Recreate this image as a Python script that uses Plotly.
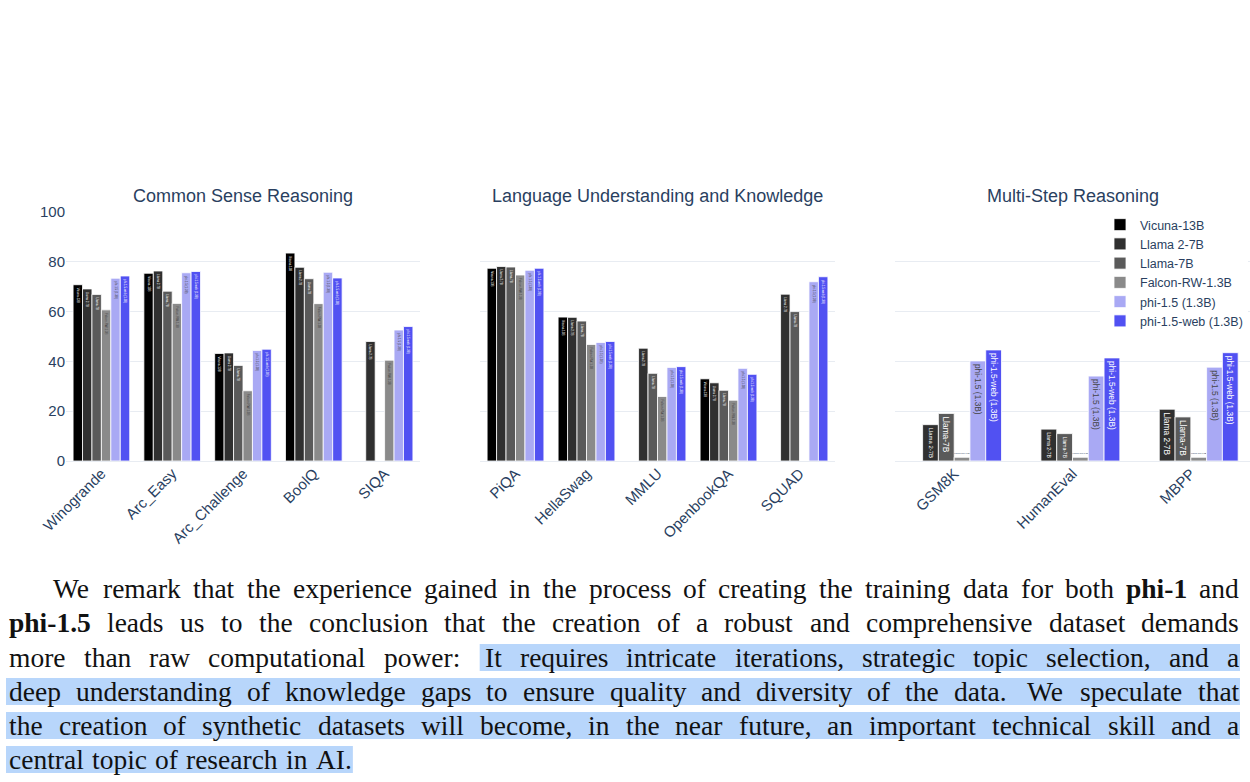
import plotly.graph_objects as go

W, H = 1250, 782

# ---------------- data ----------------
models = ["Vicuna-13B", "Llama 2-7B", "Llama-7B", "Falcon-RW-1.3B",
          "phi-1.5 (1.3B)", "phi-1.5-web (1.3B)"]
colors = ["#000000", "#303030", "#5a5a5a", "#8a8a8a", "#a9a9f4", "#5151f2"]

common_tasks = ["Winogrande", "Arc_Easy", "Arc_Challenge", "BoolQ", "SIQA"]
language_tasks = ["PiQA", "HellaSwag", "MMLU", "OpenbookQA", "SQUAD"]
multistep_tasks = ["GSM8K", "HumanEval", "MBPP"]

# values in task order: common (5), language (5), multi-step (3)
vicuna_13b = [70.8, 75.4, 43.2, 83.5, None, 77.4, 57.8, None, 33.0, None, None, None, None]
llama2_7b = [69.1, 76.3, 43.4, 77.8, 48.0, 78.1, 57.7, 45.3, 31.4, 67.0, 14.6, 12.8, 20.8]
llama_7b = [66.9, 68.2, 38.4, 73.2, None, 77.9, 56.2, 35.2, 28.4, 60.0, 19.1, 11.0, 17.7]
falcon_rw_13b = [60.7, 63.3, 28.2, 63.2, 40.5, 74.7, 46.8, 25.9, 24.4, None, 1.5, 1.5, 1.5]
phi15 = [73.4, 75.6, 44.4, 75.8, 52.6, 76.6, 47.6, 37.6, 37.2, 72.0, 40.2, 34.1, 37.7]
phi15_web = [74.3, 76.1, 44.9, 73.5, 54.0, 77.4, 48.0, 37.9, 34.8, 74.0, 44.6, 41.4, 43.5]

series = [vicuna_13b, llama2_7b, llama_7b, falcon_rw_13b, phi15, phi15_web]

panel_titles = ["Common Sense Reasoning", "Language Understanding and Knowledge",
                "Multi-Step Reasoning"]
y_ticks = [0, 20, 40, 60, 80, 100]

# ---------------- figure ----------------
fig = go.Figure()
panels = [(common_tasks, 0, 5, "x", "y"),
          (language_tasks, 5, 10, "x2", "y2"),
          (multistep_tasks, 10, 13, "x3", "y3")]

for pi, (tasks, a, b, xa, ya) in enumerate(panels):
    for mi, (m, vals) in enumerate(zip(models, series)):
        fig.add_trace(go.Bar(
            x=tasks, y=vals[a:b], name=m, text=[m] * len(tasks),
            textposition="auto",
            marker=dict(color=colors[mi], line=dict(color="white", width=0.8)),
            textfont=dict(size=12, family="Arial"),
            showlegend=(pi == 0), legendgroup=m,
            xaxis=xa, yaxis=ya,
        ))

def px_x(p):
    return p / W

def px_y(p):
    return 1 - p / H

y_dom = [px_y(461), px_y(212)]
x_doms = [[px_x(66), px_x(420)], [px_x(480), px_x(835)], [px_x(895), 1.0]]

tick_font = dict(size=15, family="Arial", color="#2a3f5f")
axis_common = dict(tickangle=-45, tickfont=tick_font, showgrid=False,
                   showline=False, ticks="", automargin=False)
yaxis_common = dict(range=[0, 100], tickvals=y_ticks, gridcolor="#e8ecf2",
                    zeroline=True, zerolinecolor="#e8ecf2", zerolinewidth=1,
                    tickfont=tick_font, domain=y_dom, fixedrange=True,
                    automargin=False)

fig.update_layout(
    xaxis=dict(domain=x_doms[0], anchor="y", categoryorder="array",
               categoryarray=common_tasks, **axis_common),
    xaxis2=dict(domain=x_doms[1], anchor="y2", categoryorder="array",
                categoryarray=language_tasks, **axis_common),
    xaxis3=dict(domain=x_doms[2], anchor="y3", categoryorder="array",
                categoryarray=multistep_tasks, **axis_common),
    yaxis=dict(anchor="x", **yaxis_common),
    yaxis2=dict(anchor="x2", showticklabels=False, **yaxis_common),
    yaxis3=dict(anchor="x3", showticklabels=False, **yaxis_common),
    barmode="group", bargap=0.2, bargroupgap=0.0,
    width=W, height=H, margin=dict(l=0, r=0, t=0, b=0, autoexpand=False),
    paper_bgcolor="white", plot_bgcolor="white",
    font=dict(family="Arial", color="#2a3f5f"),
    legend=dict(x=px_x(1100), y=px_y(210), xanchor="left", yanchor="top",
                bgcolor="white", font=dict(size=12.5, family="Arial", color="#2a3f5f"),
                tracegroupgap=0),
)

annotations = []
for t, dom in zip(panel_titles, x_doms):
    annotations.append(dict(text=t, x=(dom[0] + dom[1]) / 2, y=px_y(196),
                            xref="paper", yref="paper", showarrow=False,
                            xanchor="center", yanchor="middle",
                            font=dict(size=18, family="Arial", color="#2a3f5f")))

# ---------------- paragraph text (justified) ----------------
REG = {' ': 250, 'a': 444, 'b': 500, 'c': 444, 'd': 500, 'e': 444, 'f': 333, 'g': 500,
       'h': 500, 'i': 278, 'j': 278, 'k': 500, 'l': 278, 'm': 778, 'n': 500, 'o': 500,
       'p': 500, 'q': 500, 'r': 333, 's': 389, 't': 278, 'u': 500, 'v': 500, 'w': 722,
       'x': 500, 'y': 500, 'z': 444, 'A': 722, 'I': 333, 'W': 944, 'T': 611, ':': 278,
       ',': 250, '.': 250, '-': 333, '1': 500, '5': 500, '(': 333, ')': 333}
BOLD = {'p': 556, 'h': 556, 'i': 278, '-': 333, '1': 500, '.': 250, '5': 500}

lines = [
    "We remark that the experience gained in the process of creating the training data for both *phi-1 and",
    "*phi-1.5 leads us to the conclusion that the creation of a robust and comprehensive dataset demands",
    "more than raw computational power: It requires intricate iterations, strategic topic selection, and a",
    "deep understanding of knowledge gaps to ensure quality and diversity of the data. We speculate that",
    "the creation of synthetic datasets will become, in the near future, an important technical skill and a",
    "central topic of research in AI.",
]
line_left = [52, 8, 8, 8, 8, 8]
line_right = 1238
line_cy = [588, 622, 657, 691, 725, 759]
FS = 27.5
HL_COLOR = "#b8d6fb"

shapes = []
def band(x0, x1, cy):
    shapes.append(dict(type="rect", xref="paper", yref="paper",
                       x0=px_x(x0), x1=px_x(x1), y0=px_y(cy + 14), y1=px_y(cy - 13),
                       fillcolor=HL_COLOR, line=dict(width=0), layer="below"))

for li, line in enumerate(lines):
    words = line.split(" ")
    items = []
    for w in words:
        bold = w.startswith("*")
        w2 = w[1:] if bold else w
        tbl = BOLD if bold else REG
        width = sum(tbl.get(ch, REG.get(ch, 500)) for ch in w2) / 1000 * FS
        items.append((w2, bold, width))
    natural = sum(it[2] for it in items)
    weights = [1.35 if it[0].endswith((".", ":")) else 1.0 for it in items[:-1]]
    last = li == len(lines) - 1
    if last:
        unit = 0.3 * FS
    else:
        unit = (line_right - line_left[li] - natural) / sum(weights)
    x = line_left[li]
    positions = []
    for k, (w2, bold, width) in enumerate(items):
        positions.append(x)
        txt = f"<b>{w2}</b>" if bold else w2
        annotations.append(dict(text=txt, x=px_x(x), y=px_y(line_cy[li]),
                                xref="paper", yref="paper", showarrow=False,
                                xanchor="left", yanchor="middle", borderpad=0,
                                font=dict(size=FS, family="Liberation Serif", color="#111111")))
        x += width
        if k < len(weights):
            x += unit * weights[k]
    # highlight
    if li == 2:
        idx = [it[0] for it in items].index("It")
        band(positions[idx] - 4, line_right + 2, line_cy[li])
    elif li in (3, 4):
        band(line_left[li] - 2, line_right + 2, line_cy[li])
    elif li == 5:
        band(line_left[li] - 2, x + 2, line_cy[li])

fig.update_layout(annotations=annotations, shapes=shapes)
fig.write_html("out.html")
